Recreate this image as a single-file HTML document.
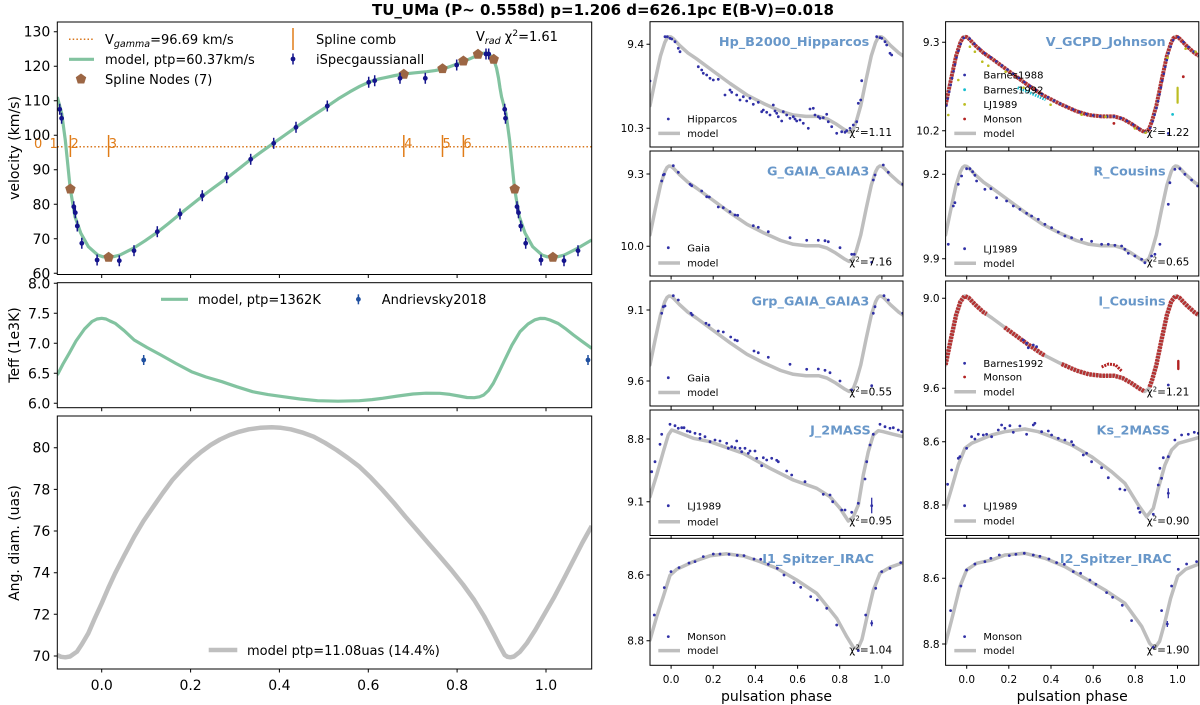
<!DOCTYPE html>
<html><head><meta charset="utf-8"><style>
html,body{margin:0;padding:0;background:#fff;}
svg{display:block;font-family:"DejaVu Sans","Liberation Sans",sans-serif;}
.mdl{fill:none;stroke:#bebebe;stroke-width:3.5;stroke-linejoin:round;stroke-linecap:round}
.pt{fill:none;stroke:#3030a6;stroke-width:2.8;stroke-linecap:round}
.fr{fill:none;stroke:#000;stroke-width:1}
.tk{stroke:#000;stroke-width:1;fill:none}
.yl{font-size:10.5px;text-anchor:end}
.xl{font-size:10.5px;text-anchor:middle}
.ttl{font-size:12.8px;font-weight:bold;fill:#6897c9;text-anchor:end}
.lg{font-size:10px}
.chi{font-size:10.5px}
.lml{fill:none;stroke:#bebebe;stroke-width:3.5}
.Ly{font-size:14px;text-anchor:end}
.Lx{font-size:14px;text-anchor:middle}
.Lg{font-size:13px}
</style></head><body>
<svg width="1200" height="705" viewBox="0 0 1200 705" xmlns="http://www.w3.org/2000/svg">
<defs>
<clipPath id="cL1"><rect x="57.3" y="22" width="534.4" height="252.5"/></clipPath>
<clipPath id="cL2"><rect x="57.3" y="282.7" width="534.4" height="125"/></clipPath>
<clipPath id="cL3"><rect x="57.3" y="416" width="534.4" height="253"/></clipPath>
<clipPath id="cR"><rect x="0" y="0" width="253" height="125.5"/></clipPath>
<clipPath id="cR5"><rect x="0" y="0" width="253" height="127"/></clipPath>
<path id="opt" d="M0,83.8L5.3,58L10.5,34.1L14.8,20.7L17,16.5L19,15L21,15.3L23.2,16.9L29.5,23.6L37.9,31.2L46.4,37L63.2,49.4L80.1,61.8L97,73.3L113.8,81.9L130.7,89.5L143.3,93.3L155.9,94.7L168.6,94.7L177,97.1L185.5,101.9L193.9,107.6L199.1,110.5L203.3,107.6L206.5,99L210.8,83.8L216.1,58L221.3,34.1L225.6,20.7L227.8,16.5L229.8,15L231.8,15.3L234,16.9L240.3,23.6L248.8,31.2L253,34.1"/>
<path id="xt" d="M21.1,0v3.5M63.2,0v3.5M105.4,0v3.5M147.6,0v3.5M189.7,0v3.5M231.9,0v3.5"/>
<path id="pent" d="M0,-5.5L5.23,-1.7L3.23,4.45L-3.23,4.45L-5.23,-1.7Z"/>
<g id="vpt"><line x1="0" y1="-5.5" x2="0" y2="5.5" stroke="#14148c" stroke-width="1.5"/><circle r="2.4" fill="#14148c"/></g>
<g id="tpt"><line x1="0" y1="-5" x2="0" y2="5" stroke="#2050a0" stroke-width="1.5"/><circle r="2.4" fill="#2050a0"/></g>
</defs>

<!-- Title -->
<text x="603" y="15" font-size="15" font-weight="bold" text-anchor="middle">TU_UMa (P~ 0.558d) p=1.206 d=626.1pc E(B-V)=0.018</text>

<!-- ============ LEFT: velocity ============ -->
<g clip-path="url(#cL1)">
<line x1="57.3" y1="146.7" x2="591.7" y2="146.7" stroke="#d8761c" stroke-width="1.5" stroke-dasharray="1.5 2.2"/>
<path d="M70.4,135V157M108.6,135V157M403.8,135V157M442.5,135V157M463.4,135V157" stroke="#e07c18" stroke-width="1.5"/>
<path d="M57.3,97L61.7,113.5L65.3,140.1L70.2,188.4L75,216.7L80.8,233.2L88.4,246.7L97.7,255L103,256.8L108.3,257.3L114,256.6L120,255L133.3,248.3L145,240.8L156.7,232.7L168.3,223.6L180,214L191,205.2L201.7,196.7L214,187.5L226.7,178.3L238.3,169.2L250,160L261.7,151.6L273.3,143.3L285,135L296.7,126.7L311.7,116.5L326.7,106.7L338.3,98.8L350,91.7L360,86.2L370,81.7L378.3,79.1L386.7,77.3L395,75.5L404,74L415,72.8L426.7,71.7L435,70.6L443.3,69L453,65.5L463.3,61.7L471,58.3L478.3,55L483,53.3L486.5,52.8L489.5,54.5L492,57.5L494.5,62L496.5,68L498.5,78L500,88L501.6,97L506,113.5L509.6,140.1L514.5,188.4L519.3,216.7L525.1,233.2L532.7,246.7L542,255L547.3,256.8L552.6,257.3L558.3,256.6L564.3,255L577.6,248.3L591.7,240" fill="none" stroke="#82c3a0" stroke-width="3.2" stroke-linejoin="round"/>
<g fill="#9c6644">
<use href="#pent" x="70.4" y="189"/><use href="#pent" x="108.6" y="257.3"/><use href="#pent" x="403.8" y="74.3"/><use href="#pent" x="442.5" y="68.7"/><use href="#pent" x="463.4" y="61"/><use href="#pent" x="478" y="54.3"/><use href="#pent" x="493.7" y="59.3"/><use href="#pent" x="514.7" y="189"/><use href="#pent" x="552.9" y="257.3"/>
</g>
<use href="#vpt" x="59.7" y="109.3"/><use href="#vpt" x="61.6" y="118.3"/><use href="#vpt" x="73.8" y="206.7"/><use href="#vpt" x="75.3" y="212.7"/><use href="#vpt" x="77.3" y="226"/><use href="#vpt" x="81.8" y="243.3"/><use href="#vpt" x="97.1" y="260"/><use href="#vpt" x="119.3" y="260.7"/><use href="#vpt" x="134" y="250.7"/><use href="#vpt" x="157.3" y="231.7"/><use href="#vpt" x="180" y="214"/><use href="#vpt" x="202.3" y="195.7"/><use href="#vpt" x="226.7" y="177.7"/><use href="#vpt" x="250.7" y="159.3"/><use href="#vpt" x="273.7" y="143.3"/><use href="#vpt" x="296" y="127.3"/><use href="#vpt" x="327.3" y="106"/><use href="#vpt" x="368.7" y="82.3"/><use href="#vpt" x="374.7" y="80.7"/><use href="#vpt" x="400" y="78.3"/><use href="#vpt" x="425.3" y="78.3"/><use href="#vpt" x="456.7" y="65"/><use href="#vpt" x="486" y="54"/><use href="#vpt" x="488.7" y="54"/><use href="#vpt" x="504.7" y="109.3"/><use href="#vpt" x="505.5" y="118.3"/><use href="#vpt" x="517" y="206.7"/><use href="#vpt" x="518.5" y="212.7"/><use href="#vpt" x="520.8" y="226"/><use href="#vpt" x="525.7" y="243.3"/><use href="#vpt" x="541" y="260"/><use href="#vpt" x="564" y="260.7"/><use href="#vpt" x="578" y="250.7"/>
</g>
<g font-size="13" fill="#e07c18">
<text x="34" y="148">0</text><text x="49.5" y="148">1</text><text x="70.5" y="148">2</text><text x="108.8" y="148">3</text><text x="404.2" y="148">4</text><text x="442.5" y="148">5</text><text x="463.4" y="148">6</text>
</g>
<rect class="fr" x="57.3" y="22" width="534.4" height="252.5"/>
<path class="tk" d="M57.3,31.7h-3.5M57.3,66.2h-3.5M57.3,100.7h-3.5M57.3,135.2h-3.5M57.3,169.7h-3.5M57.3,204.3h-3.5M57.3,238.8h-3.5M57.3,273.3h-3.5M101.7,274.5v3.5M190.6,274.5v3.5M279.4,274.5v3.5M368.3,274.5v3.5M457.1,274.5v3.5M546,274.5v3.5"/>
<text class="Ly" x="50.3" y="36.7">130</text><text class="Ly" x="50.3" y="71.2">120</text><text class="Ly" x="50.3" y="105.7">110</text><text class="Ly" x="50.3" y="140.2">100</text><text class="Ly" x="50.3" y="174.7">90</text><text class="Ly" x="50.3" y="209.3">80</text><text class="Ly" x="50.3" y="243.8">70</text><text class="Ly" x="50.3" y="278.3">60</text>
<text font-size="14" text-anchor="middle" transform="translate(19,148) rotate(-90)">velocity (km/s)</text>
<!-- legend -->
<line x1="69" y1="39.3" x2="94" y2="39.3" stroke="#d8761c" stroke-width="1.5" stroke-dasharray="1.5 2.2"/>
<text class="Lg" x="105" y="44">V<tspan font-size="9.5" font-style="italic" dy="3">gamma</tspan><tspan dy="-3">=96.69 km/s</tspan></text>
<line x1="69" y1="59.3" x2="94" y2="59.3" stroke="#82c3a0" stroke-width="3.2"/>
<text class="Lg" x="105" y="64">model, ptp=60.37km/s</text>
<use href="#pent" x="81" y="79" fill="#9c6644"/>
<text class="Lg" x="105" y="84">Spline Nodes (7)</text>
<line x1="293" y1="28" x2="293" y2="50" stroke="#e07c18" stroke-width="1.5"/>
<text class="Lg" x="316" y="44">Spline comb</text>
<use href="#vpt" x="293" y="59"/>
<text class="Lg" x="316" y="64">iSpecgaussianall</text>
<text class="Lg" x="476" y="41">V<tspan font-size="9.5" font-style="italic" dy="3">rad</tspan><tspan dy="-3"> χ</tspan><tspan font-size="9" dy="-5">2</tspan><tspan dy="5">=1.61</tspan></text>

<!-- ============ LEFT: Teff ============ -->
<g clip-path="url(#cL2)">
<path d="M57.3,375L63,364L69.2,353.3L76,341L84.5,329L92,321.5L97,319L101.7,318.3L106,319L110,321L115.1,323.3L124,330.5L134.2,340L147,347.5L160.9,355L176,363.5L191.5,371.7L206,377L222,381.7L237,386.8L252.6,391.7L268,394.6L283.2,396.7L300,399L317.5,400.7L338,401.2L359.5,400.7L372,399.6L382.5,398.3L398,396L413,394L426,393.2L439.8,393.3L450,394.4L458.9,396L467,397.5L474.2,397.7L479.5,396.8L483.7,395L488.5,390.5L493.3,383.3L499,372L504.7,360L512,345L520,331.7L528,324L535,319.8L540,318.4L545,318.5L550,320L558.2,323.5L565,328.3L573.5,335L582,341.3L591.7,348.3" fill="none" stroke="#82c3a0" stroke-width="3.2" stroke-linejoin="round"/>
<use href="#tpt" x="143.7" y="360"/><use href="#tpt" x="588" y="360"/>
</g>
<rect class="fr" x="57.3" y="282.7" width="534.4" height="125"/>
<path class="tk" d="M57.3,283.3h-3.5M57.3,313.3h-3.5M57.3,343.3h-3.5M57.3,373.3h-3.5M57.3,403.3h-3.5M101.7,407.7v3.5M190.6,407.7v3.5M279.4,407.7v3.5M368.3,407.7v3.5M457.1,407.7v3.5M546,407.7v3.5"/>
<text class="Ly" x="50.3" y="288.3">8.0</text><text class="Ly" x="50.3" y="318.3">7.5</text><text class="Ly" x="50.3" y="348.3">7.0</text><text class="Ly" x="50.3" y="378.3">6.5</text><text class="Ly" x="50.3" y="408.3">6.0</text>
<text font-size="14" text-anchor="middle" transform="translate(19,345) rotate(-90)">Teff (1e3K)</text>
<line x1="161" y1="299.3" x2="188" y2="299.3" stroke="#82c3a0" stroke-width="3.2"/>
<text class="Lg" x="198" y="304">model, ptp=1362K</text>
<use href="#tpt" x="358.4" y="299.3"/>
<text class="Lg" x="381.7" y="304">Andrievsky2018</text>

<!-- ============ LEFT: Ang diam ============ -->
<g clip-path="url(#cL3)">
<path d="M57.3,655L61,656.8L65.4,657.3L70,656.5L76.9,651.7L82,644L88.3,633.3L94.5,619L101.7,603.3L108.3,588L115.1,573.3L124.5,555L134.2,536.7L143.5,521L153.3,506.7L162.8,493L172.4,480L182,469.5L191.5,460L201,452L210.6,445L220,439.5L229.7,435L239,431.8L248.8,429.3L260,427.8L271.7,427.3L281,427.8L290.8,429.3L302,432.4L313.7,436.7L325,442.8L336.6,450L348,458L359.5,466.7L371,477.8L382.5,490L394,503L405.4,516.7L417,530L428.4,543.3L440,556.6L451.4,570L463,584.5L474.2,600L484,616L493.3,633.3L499.5,645.5L504.7,655L507.5,656.8L510.4,657.3L514,656.5L520,651.7L527,643L535.3,630L544.5,614L554.4,596.7L564,578.5L573.5,560L582.5,542.5L591.7,526" fill="none" stroke="#bfbfbf" stroke-width="4.5" stroke-linejoin="round"/>
</g>
<rect class="fr" x="57.3" y="416" width="534.4" height="253"/>
<path class="tk" d="M57.3,447.7h-3.5M57.3,489.4h-3.5M57.3,531h-3.5M57.3,572.7h-3.5M57.3,614.3h-3.5M57.3,656h-3.5M101.7,669v3.5M190.6,669v3.5M279.4,669v3.5M368.3,669v3.5M457.1,669v3.5M546,669v3.5"/>
<text class="Ly" x="50.3" y="452.7">80</text><text class="Ly" x="50.3" y="494.4">78</text><text class="Ly" x="50.3" y="536">76</text><text class="Ly" x="50.3" y="577.7">74</text><text class="Ly" x="50.3" y="619.3">72</text><text class="Ly" x="50.3" y="661">70</text>
<text class="Lx" x="101.7" y="690">0.0</text><text class="Lx" x="190.6" y="690">0.2</text><text class="Lx" x="279.4" y="690">0.4</text><text class="Lx" x="368.3" y="690">0.6</text><text class="Lx" x="457.1" y="690">0.8</text><text class="Lx" x="546" y="690">1.0</text>
<text font-size="14" text-anchor="middle" transform="translate(19,543) rotate(-90)">Ang. diam. (uas)</text>
<line x1="208.7" y1="650" x2="237.3" y2="650" stroke="#bfbfbf" stroke-width="4.5"/>
<text class="Lg" x="247" y="655">model ptp=11.08uas (14.4%)</text>

<!-- ============ RIGHT col A ============ -->
<!-- Hp -->
<g transform="translate(650,21.7)">
<g clip-path="url(#cR)">
<use href="#opt" class="mdl"/>
<path class="pt" d="M0,59.3h0M15,15h0M17.3,15h0M20,16.6h0M21.7,17.3h0M25,20h0M28.3,26.6h0M30,30h0M48.3,45h0M51.7,48.3h0M53.3,51.6h0M56.7,53.3h0M60,56.6h0M63.3,58.3h0M68.3,57.6h0M75,73.3h0M80,68.3h0M81.7,70.6h0M86.7,73.3h0M90,78.3h0M93.3,75h0M96.7,79.3h0M100,76.6h0M103.3,82.6h0M108.3,80.6h0M111.7,90h0M113.3,88.3h0M116.7,90.6h0M120,93.3h0M123.3,83.3h0M125,89.3h0M126.7,91.6h0M128.3,95h0M131.7,99.3h0M133.3,90h0M136.7,93.3h0M140,96.6h0M143.3,95h0M145,97.3h0M146.7,99.3h0M150,98.3h0M153.3,101.6h0M158.3,106.6h0M160,87.3h0M163.3,86.6h0M165,93.3h0M168.3,95h0M170,96.6h0M173.3,96h0M176.7,92.6h0M178.3,100h0M181.7,105h0M186.7,111.6h0M191.7,110h0M195,110.6h0M196.7,109h0M200,106.6h0M203.3,103.3h0M206.7,100h0M208.3,81.6h0M210.7,78.3h0M211.7,59h0M226.7,15h0M230,16h0M231.7,16.6h0M235,20h0M236.7,23.3h0M240,31.6h0M241.7,33.3h0"/>
</g>
<rect class="fr" width="253" height="125.3"/>
<use href="#xt" class="tk" y="125.3"/>
<path class="tk" d="M0,22.6h-3.5M0,106.6h-3.5"/>
<text class="yl" x="-6" y="26.4">9.4</text><text class="yl" x="-6" y="110.4">10.3</text>
<text class="ttl" x="219.3" y="24.5">Hp_B2000_Hipparcos</text>
<path class="pt" d="M18.3,97.3h0"/><text class="lg" x="37.3" y="100.9">Hipparcos</text>
<path class="lml" d="M8.3,111.7h21.7"/><text class="lg" x="37.3" y="115.3">model</text>
<text class="chi" x="199.3" y="114.5">χ<tspan font-size="7" dy="-4">2</tspan><tspan dy="4">=1.11</tspan></text>
</g>

<!-- G -->
<g transform="translate(650,151)">
<g clip-path="url(#cR)">
<use href="#opt" class="mdl"/>
<path class="pt" d="M11.7,30h0M13.3,24h0M14.3,23.3h0M23.3,14.7h0M28.3,21.3h0M40,33.3h0M41.7,34.7h0M51.7,40h0M56.7,45.7h0M59.3,46h0M68.3,56h0M73.3,56.7h0M80,60.7h0M85,64h0M87.7,64.3h0M103.3,74.7h0M108.3,76.3h0M118.3,80.7h0M140,86.7h0M156.7,89.3h0M168.3,89.3h0M175,89.7h0M178.3,90.7h0M190,96.7h0M201.7,103.3h0M204.3,103.3h0M221.7,111.3h0M223.3,29h0M225,24h0M233.3,14h0M238.3,21.3h0M252.7,33.3h0"/>
</g>
<rect class="fr" width="253" height="125"/>
<use href="#xt" class="tk" y="125"/>
<path class="tk" d="M0,23h-3.5M0,95.3h-3.5"/>
<text class="yl" x="-6" y="26.8">9.3</text><text class="yl" x="-6" y="99.1">10.0</text>
<text class="ttl" x="219.3" y="24.5">G_GAIA_GAIA3</text>
<path class="pt" d="M18.3,96.7h0"/><text class="lg" x="37.3" y="100.3">Gaia</text>
<path class="lml" d="M8.3,112h21.7"/><text class="lg" x="37.3" y="115.6">model</text>
<text class="chi" x="199.3" y="114.5">χ<tspan font-size="7" dy="-4">2</tspan><tspan dy="4">=7.16</tspan></text>
</g>

<!-- Grp -->
<g transform="translate(650,281)">
<g clip-path="url(#cR)">
<use href="#opt" class="mdl"/>
<path class="pt" d="M11.7,32.3h0M13.3,25.7h0M15,25h0M23.3,14.7h0M28.3,19h0M41,32.3h0M42.3,34h0M56,42.3h0M59,44h0M68.3,50h0M73.3,51h0M80.7,56h0M85,59h0M87.3,59.7h0M104,70h0M108.3,71.7h0M118.3,76.3h0M140,83.3h0M156.7,88.3h0M168.3,88h0M175,89.3h0M180,91.7h0M190,100h0M201.7,109h0M221.7,104.7h0M223.3,32.3h0M225,25.7h0M234,14.7h0M238.3,19h0M252.7,32.3h0"/>
</g>
<rect class="fr" width="253" height="125"/>
<use href="#xt" class="tk" y="125"/>
<path class="tk" d="M0,29h-3.5M0,100h-3.5"/>
<text class="yl" x="-6" y="32.8">9.1</text><text class="yl" x="-6" y="103.8">9.6</text>
<text class="ttl" x="219.3" y="24.5">Grp_GAIA_GAIA3</text>
<path class="pt" d="M18.3,96.7h0"/><text class="lg" x="37.3" y="100.3">Gaia</text>
<path class="lml" d="M8.3,111.5h21.7"/><text class="lg" x="37.3" y="115.1">model</text>
<text class="chi" x="199.3" y="114.5">χ<tspan font-size="7" dy="-4">2</tspan><tspan dy="4">=0.55</tspan></text>
</g>

<!-- J -->
<g transform="translate(650,410)">
<g clip-path="url(#cR)">
<path class="mdl" d="M0,86.7L6.7,65L13.3,41.7L18.3,25L21.7,20L26.7,21.7L43.3,28.3L60,31.7L93.3,43.3L120,58.3L143.3,70L166.7,78.3L180,86.7L190,98.3L198.3,111L203.3,106.7L208.3,95L213.3,65L218.3,41.7L223.3,25L228.3,20.7L233.3,21.7L243.3,24.3L253.3,26.7"/>
<path class="pt" d="M1.7,61.7h0M5,51.7h0M10,34.3h0M11.7,24.3h0M20,14.3h0M25,15.7h0M28.3,18.3h0M31.7,17.7h0M34,17.7h0M37.3,21h0M40,21.7h0M45,23.3h0M50,24.3h0M50,28.3h0M55,26.7h0M60,31.7h0M65,30h0M70,31h0M76.7,33.3h0M78.3,38.3h0M81.7,36.7h0M85,37.7h0M86.7,31h0M90,38.3h0M91.7,41.7h0M95,38.3h0M98.3,43.3h0M100,41h0M105,41h0M106.7,48.3h0M113.3,47.7h0M116.7,50h0M121.7,48.3h0M126.7,50.3h0M128.3,51.7h0M111.7,55.7h0M136.7,61h0M141.7,65h0M155,71.7h0M173.3,84.3h0M180,85h0M182.7,91.7h0M191.7,100h0M195,100h0M201.7,102.3h0M208.3,93.3h0M215,69h0M216.7,51.7h0M220,35h0M223.3,24.3h0M230,14.3h0M235,16.7h0M240,18.3h0M243.3,17.7h0M248.3,20h0M251.7,21.7h0M221.7,95.7h0"/>
<path d="M221.7,87.7V103.3" stroke="#3030a6" stroke-width="1.3"/>
</g>
<rect class="fr" width="253" height="125.5"/>
<use href="#xt" class="tk" y="125.5"/>
<path class="tk" d="M0,29h-3.5M0,91.7h-3.5"/>
<text class="yl" x="-6" y="32.8">8.8</text><text class="yl" x="-6" y="95.5">9.1</text>
<text class="ttl" x="220.7" y="24.5">J_2MASS</text>
<path class="pt" d="M18.3,95.7h0"/><text class="lg" x="37.3" y="99.3">LJ1989</text>
<path class="lml" d="M8.3,111.7h21.7"/><text class="lg" x="37.3" y="115.3">model</text>
<text class="chi" x="199.3" y="114.5">χ<tspan font-size="7" dy="-4">2</tspan><tspan dy="4">=0.95</tspan></text>
</g>

<!-- I1 -->
<g transform="translate(650,538.3)">
<g clip-path="url(#cR5)">
<path class="mdl" d="M0,101.7L6.7,78.3L13.3,58.3L20,37L26.7,31L43.3,23.3L60,17.5L76.7,15.5L93.3,17.7L110,23.3L126.7,30L146.7,41.7L166.7,55L186.7,80L196.7,98.3L203.3,109L208,110L212,101L216.7,80L223.3,52L230,35L240,29L253.3,24.3"/>
<path class="pt" d="M4.3,76.7h0M14.3,49.3h0M21,33.3h0M29,29.3h0M39,24.7h0M45,23.3h0M53.3,18.3h0M63.3,15.7h0M70,15.7h0M79,16h0M87.3,17h0M94,17.3h0M104,20.7h0M110.7,21h0M118.3,26h0M127.3,30h0M134,36.7h0M144,44.3h0M150.7,49h0M160.7,58.3h0M167.3,61.7h0M176.7,70h0M186.7,86.7h0M208.3,112.3h0M215.7,76.7h0M225.7,50h0M231.7,33.3h0M240,30h0M250.7,24.3h0M221.7,85h0"/>
<path d="M221.7,82V88" stroke="#3030a6" stroke-width="1.3"/>
</g>
<rect class="fr" width="253" height="127"/>
<use href="#xt" class="tk" y="127"/>
<path class="tk" d="M0,36.7h-3.5M0,102.4h-3.5"/>
<text class="yl" x="-6" y="40.5">8.6</text><text class="yl" x="-6" y="106.2">8.8</text>
<text class="ttl" x="224" y="24.5">I1_Spitzer_IRAC</text>
<path class="pt" d="M18.3,98.3h0"/><text class="lg" x="37.3" y="101.9">Monson</text>
<path class="lml" d="M8.3,112.3h21.7"/><text class="lg" x="37.3" y="115.9">model</text>
<text class="chi" x="199.3" y="115">χ<tspan font-size="7" dy="-4">2</tspan><tspan dy="4">=1.04</tspan></text>
</g>
<text class="xl" x="671.1" y="683">0.0</text><text class="xl" x="713.2" y="683">0.2</text><text class="xl" x="755.4" y="683">0.4</text><text class="xl" x="797.6" y="683">0.6</text><text class="xl" x="839.7" y="683">0.8</text><text class="xl" x="881.9" y="683">1.0</text>
<text x="776.5" y="701" font-size="14" text-anchor="middle">pulsation phase</text>

<!-- ============ RIGHT col B ============ -->
<!-- V -->
<g transform="translate(945.6,21.7)">
<g clip-path="url(#cR)">
<use href="#opt" class="mdl"/>
<path d="M72,66L80,69L90,73.5L100,78" fill="none" stroke="#17becf" stroke-width="3" stroke-dasharray="1.5 1.2"/>
<use href="#opt" fill="none" stroke="#b22222" stroke-width="4" stroke-dasharray="2.5 0.8" opacity="0.9"/>
<use href="#opt" fill="none" stroke="#3030a6" stroke-width="2.6" stroke-dasharray="0 7" stroke-linecap="round" transform="translate(0.8,0)"/>
<path d="M2.7,93.3h0M12.7,58.3h0M24.3,25h0M29.3,30h0M36.7,40h0M42.7,44h0M60,50h0M78,66h0M105,83h0M136,93h0M160,95h0M189.3,106.7h0M200,111h0M222,36h0M240,27h0M250,30h0" fill="none" stroke="#bcbd22" stroke-width="2.6" stroke-linecap="round"/>
<path d="M232,73.3h0M232,66V81" stroke="#bcbd22" stroke-width="2.2" stroke-linecap="round"/>
<path d="M227,92.7h0" stroke="#17becf" stroke-width="2.8" stroke-linecap="round"/>
<path d="M237.7,55h0M168.3,101.7h0" stroke="#b22222" stroke-width="2.8" stroke-linecap="round"/>
<path class="pt" d="M222.7,111.7h0"/>
</g>
<rect class="fr" width="253.2" height="125.3"/>
<use href="#xt" class="tk" y="125.3"/>
<path class="tk" d="M0,20.6h-3.5M0,109h-3.5"/>
<text class="yl" x="-6" y="24.4">9.3</text><text class="yl" x="-6" y="112.8">10.2</text>
<text class="ttl" x="220" y="24.5">V_GCPD_Johnson</text>
<path d="M19,53.3h0" stroke="#3030a6" stroke-width="2.8" stroke-linecap="round"/><text class="lg" x="37.8" y="56.9">Barnes1988</text>
<path d="M19,68h0" stroke="#17becf" stroke-width="2.8" stroke-linecap="round"/><text class="lg" x="37.8" y="71.6">Barnes1992</text>
<path d="M19,82.7h0" stroke="#bcbd22" stroke-width="2.8" stroke-linecap="round"/><text class="lg" x="37.8" y="86.3">LJ1989</text>
<path d="M19,97.3h0" stroke="#b22222" stroke-width="2.8" stroke-linecap="round"/><text class="lg" x="37.8" y="100.9">Monson</text>
<path class="lml" d="M8.7,111.7h21.7"/><text class="lg" x="37.8" y="115.3">model</text>
<text class="chi" x="201" y="114.5">χ<tspan font-size="7" dy="-4">2</tspan><tspan dy="4">=1.22</tspan></text>
</g>

<!-- R -->
<g transform="translate(945.6,151)">
<g clip-path="url(#cR)">
<use href="#opt" class="mdl"/>
<path class="pt" d="M2.7,93.3h0M7.7,55h0M9.3,51.7h0M12.7,33.3h0M16,25h0M21,17.7h0M24.3,17.7h0M27,20.7h0M29.3,24.3h0M31,30h0M39.3,38.3h0M45.3,37.7h0M51,46.7h0M61,50h0M67.7,55h0M74.3,58.3h0M81,62.3h0M86,65h0M92.7,68.3h0M99.3,73.3h0M106,76.7h0M112.7,81h0M119.3,85h0M126,86.7h0M136,88.3h0M146,90.3h0M156,93.3h0M162.7,93.3h0M169.3,94.3h0M176,95h0M179.3,98.3h0M182.7,102.3h0M189.3,105h0M196,108.3h0M199.3,111.7h0M206,105h0M209.3,103.3h0M214.3,93.3h0M222.7,53.3h0M224.3,31.7h0M229.3,18.3h0M234.3,17.7h0M239.3,23.3h0M246,29h0M252,35h0"/>
</g>
<rect class="fr" width="253.2" height="125"/>
<use href="#xt" class="tk" y="125"/>
<path class="tk" d="M0,23.3h-3.5M0,107.7h-3.5"/>
<text class="yl" x="-6" y="27.1">9.2</text><text class="yl" x="-6" y="111.5">9.9</text>
<text class="ttl" x="220" y="24.5">R_Cousins</text>
<path class="pt" d="M19,97.7h0"/><text class="lg" x="37.8" y="101.3">LJ1989</text>
<path class="lml" d="M8.7,112.3h21.7"/><text class="lg" x="37.8" y="115.9">model</text>
<text class="chi" x="201" y="114.5">χ<tspan font-size="7" dy="-4">2</tspan><tspan dy="4">=0.65</tspan></text>
</g>

<!-- I -->
<g transform="translate(945.6,281)">
<g clip-path="url(#cR)">
<use href="#opt" class="mdl"/>
<path d="M0,83.8L5.3,58L10.5,34.1L14.8,20.7L19,15L23.2,16.9L29.5,23.6L37.9,31.2L41,33M59,46.3L63.2,49.4L80.1,61.8L97,73.3L99,74.3M116,83L130.7,89.5L143.3,93.3L155.9,94.7L168.6,94.7L177,97.1L185.5,101.9L193.9,107.6L199.1,110.5M204,106L206.5,99L210.8,83.8L216.1,58L221.3,34.1L225.6,20.7L229.8,15L234,16.9L240.3,23.6L248.8,31.2L253,34.1" fill="none" stroke="#b22222" stroke-width="4.5" stroke-dasharray="2.5 0.8" opacity="0.9"/>
<path d="M156,86L163,83L170,84L176,90" fill="none" stroke="#b22222" stroke-width="3" stroke-dasharray="2 1"/>
<path class="pt" d="M77.7,59h0M81,62.3h0M82.7,66.7h0M87.7,64h0M91,65.7h0M222.7,104h0"/>
<path d="M232.7,84h0M232.7,80V88" stroke="#b22222" stroke-width="2.4" stroke-linecap="round"/>
</g>
<rect class="fr" width="253.2" height="125"/>
<use href="#xt" class="tk" y="125"/>
<path class="tk" d="M0,17.3h-3.5M0,107.3h-3.5"/>
<text class="yl" x="-6" y="21.1">9.0</text><text class="yl" x="-6" y="111.1">9.6</text>
<text class="ttl" x="220" y="24.5">I_Cousins</text>
<path class="pt" d="M19,82.3h0"/><text class="lg" x="37.8" y="85.9">Barnes1992</text>
<path d="M19,96h0" stroke="#b22222" stroke-width="2.8" stroke-linecap="round"/><text class="lg" x="37.8" y="99.6">Monson</text>
<path class="lml" d="M8.7,110.7h21.7"/><text class="lg" x="37.8" y="114.3">model</text>
<text class="chi" x="201" y="114.5">χ<tspan font-size="7" dy="-4">2</tspan><tspan dy="4">=1.21</tspan></text>
</g>

<!-- Ks -->
<g transform="translate(945.6,410)">
<g clip-path="url(#cR)">
<path class="mdl" d="M0,98.3L6,78.3L12.7,55L19.3,38.3L26,33.3L46,25L59.3,21.7L79.3,19L92.7,21.7L106,26.7L126,35L146,46.7L166,61.7L179.3,73.3L192.7,95L201,106.7L207.7,98.3L212.7,78.3L219.3,55L226,40L232.7,33.3L252.7,27.7"/>
<path class="pt" d="M2,74.3h0M6,60h0M12.7,48.3h0M14.3,46.7h0M21,38.3h0M26,26.7h0M29.3,29h0M32.7,24.3h0M37.7,25h0M41,24.3h0M46,26.7h0M52.7,20h0M56,15h0M59.3,18.3h0M64.3,15.7h0M67.7,22.3h0M74.3,16h0M81,24.3h0M87.7,15h0M89.3,13.3h0M96,21.7h0M102.7,21h0M106,25h0M112.7,28.3h0M119.3,30h0M126,31.7h0M127.7,35h0M137.7,45h0M141,43.3h0M146,51.7h0M156,57.7h0M162.7,67.7h0M174.3,79h0M179.3,80h0M192.7,98.3h0M194.3,102.3h0M207.7,104.3h0M212.7,75h0M216,68.3h0M214.3,58.3h0M217.7,47.7h0M222.7,46.7h0M229.3,30h0M236,25h0M242.7,24.3h0M248.7,22.3h0M252.7,23.3h0M222.7,83.3h0"/>
<path d="M222.7,78.3V88.3" stroke="#3030a6" stroke-width="1.3"/>
</g>
<rect class="fr" width="253.2" height="125.5"/>
<use href="#xt" class="tk" y="125.5"/>
<path class="tk" d="M0,31.7h-3.5M0,95h-3.5"/>
<text class="yl" x="-6" y="35.5">8.6</text><text class="yl" x="-6" y="98.8">8.8</text>
<text class="ttl" x="224.3" y="24.5">Ks_2MASS</text>
<path class="pt" d="M19,95.7h0"/><text class="lg" x="37.8" y="99.3">LJ1989</text>
<path class="lml" d="M8.7,111h21.7"/><text class="lg" x="37.8" y="114.6">model</text>
<text class="chi" x="201" y="114.5">χ<tspan font-size="7" dy="-4">2</tspan><tspan dy="4">=0.90</tspan></text>
</g>

<!-- I2 -->
<g transform="translate(945.6,538.3)">
<g clip-path="url(#cR5)">
<path class="mdl" d="M0,105L6,81.7L14.3,48.3L21,31.7L31,25L46,21.7L59.3,16.7L79.3,15L99.3,20L119.3,28.3L139.3,40L159.3,51.7L179.3,65L196,88L204,105L209,110L214,103L219,85L225,60L232,38L240,31L252.7,26"/>
<path class="pt" d="M5,72.3h0M15.3,47.7h0M21,31.7h0M29.3,25.7h0M39.3,23.3h0M45.3,20h0M53.7,16.7h0M63.7,17.3h0M70.3,16h0M78.7,15h0M87.7,16.7h0M94.3,18h0M103.3,20.7h0M111,24.3h0M118.7,26h0M127.7,33.3h0M135,35h0M144.3,41.7h0M150.3,46h0M161,54.3h0M167,59h0M176.7,67h0M186,82.3h0M207.7,109h0M216,72.3h0M226,47.7h0M232.7,31h0M241,25.7h0M251,23.3h0M221.7,85.7h0"/>
<path d="M221.7,82.7V88.7" stroke="#3030a6" stroke-width="1.3"/>
</g>
<rect class="fr" width="253.2" height="127"/>
<use href="#xt" class="tk" y="127"/>
<path class="tk" d="M0,40h-3.5M0,105.7h-3.5"/>
<text class="yl" x="-6" y="43.8">8.6</text><text class="yl" x="-6" y="109.5">8.8</text>
<text class="ttl" x="226" y="24.5">I2_Spitzer_IRAC</text>
<path class="pt" d="M19,98.3h0"/><text class="lg" x="37.8" y="101.9">Monson</text>
<path class="lml" d="M8.7,112.3h21.7"/><text class="lg" x="37.8" y="115.9">model</text>
<text class="chi" x="201" y="115">χ<tspan font-size="7" dy="-4">2</tspan><tspan dy="4">=1.90</tspan></text>
</g>
<text class="xl" x="966.7" y="683">0.0</text><text class="xl" x="1008.8" y="683">0.2</text><text class="xl" x="1051" y="683">0.4</text><text class="xl" x="1093.2" y="683">0.6</text><text class="xl" x="1135.3" y="683">0.8</text><text class="xl" x="1177.5" y="683">1.0</text>
<text x="1072.2" y="701" font-size="14" text-anchor="middle">pulsation phase</text>
</svg>
</body></html>
